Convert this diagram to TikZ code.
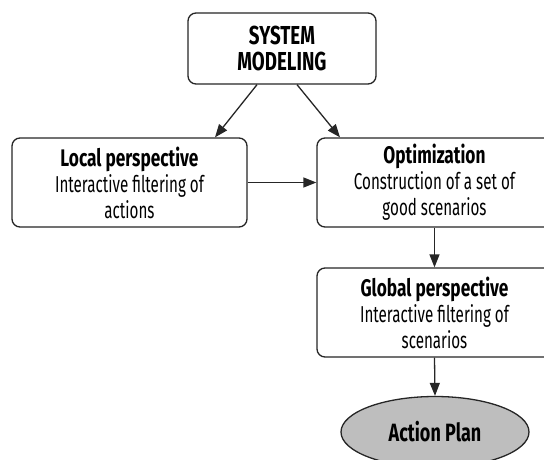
\documentclass[tikz,border=0pt]{standalone}
\usepackage{fontspec}
\setmainfont{Fira Sans}[FakeStretch=0.66]
\newfontfamily\hdfont{Fira Sans}[FakeStretch=0.72]
\usetikzlibrary{arrows.meta,shapes.geometric,calc}
\definecolor{edge}{HTML}{262626}
\definecolor{planfill}{HTML}{BEBEBE}
\newcommand{\hd}[1]{{\hdfont\bfseries\fontsize{24}{26}\selectfont #1}}
\tikzset{
  stepbox/.style={draw=edge, line width=1.3pt, rounded corners=8pt, fill=white,
    minimum width=235pt, minimum height=89pt, align=center, inner sep=0pt,
    font=\fontsize{23}{26}\selectfont},
  topbox/.style={stepbox, minimum width=188pt, minimum height=71pt,
    font=\hdfont\bfseries\fontsize{26}{26.5}\selectfont},
  planbox/.style={draw=edge, line width=1.3pt, ellipse, fill=planfill,
    minimum width=188pt, minimum height=71pt, inner sep=0pt,
    font=\hdfont\bfseries\fontsize{25}{26}\selectfont},
  arr/.style={draw=edge, line width=1.3pt, -{Triangle[length=13pt,width=10pt]}}
}
\begin{document}
\begin{tikzpicture}[x=1pt,y=1pt]
\useasboundingbox (0,0) rectangle (544,459);
\clip (0,0) rectangle (544,459);
\node[topbox] (sys) at (282,410.5) {SYSTEM\\MODELING};
\node[stepbox] (loc) at (129.5,276.5) {\hd{Local perspective}\\Interactive filtering of\\actions};
\node[stepbox] (opt) at (434.5,276.5) {\hd{Optimization}\\Construction of a set of\\good scenarios};
\node[stepbox] (glob) at (434.5,146.5) {\hd{Global perspective}\\Interactive filtering of\\scenarios};
\node[planbox] (plan) at (435,27) {Action Plan};
\draw[arr] ([xshift=-25pt]sys.south) -- ([xshift=85.5pt]loc.north);
\draw[arr] ([xshift=15pt]sys.south) -- ([xshift=-94.5pt]opt.north);
\draw[arr] (loc.east) -- (opt.west);
\draw[arr] (opt.south) -- (glob.north);
\draw[arr] (glob.south) -- (plan.north);
\end{tikzpicture}
\end{document}
